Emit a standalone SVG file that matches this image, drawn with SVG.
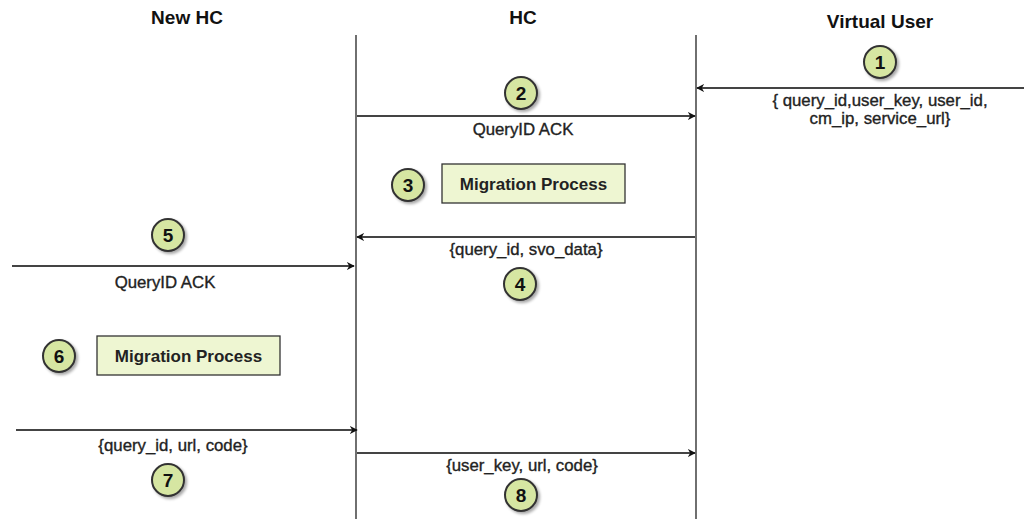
<svg xmlns="http://www.w3.org/2000/svg" width="1024" height="519" viewBox="0 0 1024 519">
  <defs>
    <marker id="arrow" viewBox="0 0 10 10" refX="9" refY="5" markerWidth="8" markerHeight="8" orient="auto-start-reverse" markerUnits="userSpaceOnUse">
      <path d="M0,0 L10,5 L0,10 L3,5 Z" fill="#111"/>
    </marker>
    <filter id="shadow" x="-30%" y="-30%" width="170%" height="170%">
      <feGaussianBlur in="SourceAlpha" stdDeviation="1.5"/>
      <feOffset dx="2" dy="2" result="b"/>
      <feComponentTransfer><feFuncA type="linear" slope="0.35"/></feComponentTransfer>
      <feMerge><feMergeNode/><feMergeNode in="SourceGraphic"/></feMerge>
    </filter>
    <style>
      .head { font-family: "Liberation Sans", Arial, sans-serif; font-weight: bold; font-size: 19px; fill: #111; text-anchor: middle; }
      .lbl { font-family: "Liberation Sans", Arial, sans-serif; font-size: 16.8px; fill: #222; stroke: #222; stroke-width: 0.35; text-anchor: middle; }
      .num { font-family: "Liberation Sans", Arial, sans-serif; font-weight: bold; font-size: 19px; fill: #111; text-anchor: middle; }
      .life { stroke: #222; stroke-width: 1.3; fill: none; }
      .msg { stroke: #444; stroke-width: 1.8; fill: none; marker-end: url(#arrow); }
      .step { fill: #d6e6a2; stroke: #333; stroke-width: 2; filter: url(#shadow); }
      .proc { fill: #eef6d2; stroke: #333; stroke-width: 1.3; }
      .ptxt { font-family: "Liberation Sans", Arial, sans-serif; font-weight: bold; font-size: 17px; fill: #222; text-anchor: middle; }
    </style>
  </defs>
  <rect width="1024" height="519" fill="#fff"/>

  <!-- participants -->
  <g id="new-hc">
    <text class="head" x="187" y="24">New HC</text>
  </g>
  <g id="hc">
    <text class="head" x="523" y="24">HC</text>
    <line class="life" x1="356" y1="35" x2="356" y2="519"/>
  </g>
  <g id="virtual-user">
    <text class="head" x="880" y="28">Virtual User</text>
    <line class="life" x1="696" y1="35" x2="696" y2="519"/>
  </g>

  <!-- messages -->
  <g id="connectors">
    <line class="msg" x1="1024" y1="88" x2="697" y2="88"/>
    <line class="msg" x1="357" y1="116" x2="695" y2="116"/>
    <line class="msg" x1="695" y1="237" x2="357" y2="237"/>
    <line class="msg" x1="12" y1="266" x2="354" y2="266"/>
    <line class="msg" x1="16" y1="430" x2="357" y2="430"/>
    <line class="msg" x1="357" y1="453" x2="695" y2="453"/>
  </g>

  <!-- message labels -->
  <g id="labels">
    <text class="lbl" x="880" y="106">{ query_id,user_key, user_id,</text>
    <text class="lbl" x="880" y="124">cm_ip, service_url}</text>
    <text class="lbl" x="523" y="135">QueryID ACK</text>
    <text class="lbl" x="526" y="255">{query_id, svo_data}</text>
    <text class="lbl" x="165" y="288">QueryID ACK</text>
    <text class="lbl" x="173" y="451">{query_id, url, code}</text>
    <text class="lbl" x="522" y="471">{user_key, url, code}</text>
  </g>

  <!-- process boxes -->
  <g id="process-hc">
    <rect class="proc" x="442" y="164" width="183" height="39"/>
    <text class="ptxt" x="533.5" y="190">Migration Process</text>
  </g>
  <g id="process-new-hc">
    <rect class="proc" x="97" y="336" width="183" height="39"/>
    <text class="ptxt" x="188.5" y="362">Migration Process</text>
  </g>

  <!-- step numbers -->
  <g id="step-1"><circle class="step" cx="880" cy="62" r="16"/><text class="num" x="880" y="69">1</text></g>
  <g id="step-2"><circle class="step" cx="521" cy="93" r="16"/><text class="num" x="521" y="100">2</text></g>
  <g id="step-3"><circle class="step" cx="408" cy="185" r="16"/><text class="num" x="408" y="192">3</text></g>
  <g id="step-4"><circle class="step" cx="520" cy="284" r="16"/><text class="num" x="520" y="291">4</text></g>
  <g id="step-5"><circle class="step" cx="168" cy="235" r="16"/><text class="num" x="168" y="242">5</text></g>
  <g id="step-6"><circle class="step" cx="59" cy="356" r="16"/><text class="num" x="59" y="363">6</text></g>
  <g id="step-7"><circle class="step" cx="168" cy="480" r="16"/><text class="num" x="168" y="487">7</text></g>
  <g id="step-8"><circle class="step" cx="521" cy="495" r="16"/><text class="num" x="521" y="502">8</text></g>
</svg>
